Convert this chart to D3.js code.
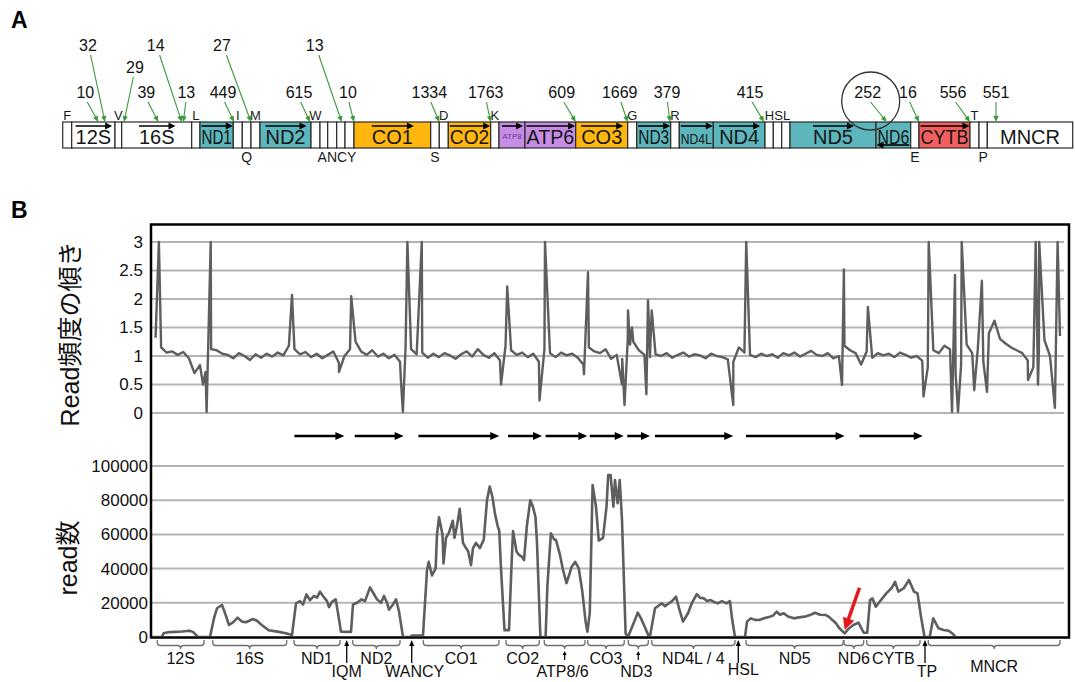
<!DOCTYPE html>
<html><head><meta charset="utf-8">
<script src="https://cdn.jsdelivr.net/npm/d3@7/dist/d3.min.js"></script>
<style>
body{margin:0;background:#fff;}
svg{display:block;}
</style></head>
<body><svg id="chart" width="1075" height="682"></svg>
<script>
// ================= DATA =================
// Panel A: schematic map of the mitochondrial genome (box widths in schematic units)
const mapSegments = ["F","12S","V","16S","L","ND1","I","Q","M","ND2","W","A","N","C","Y","CO1","S","D","CO2","K","ATP8","ATP6","CO3","G","ND3","R","ND4L","ND4","H","S","L","ND5","ND6","E","CYTB","T","P","MNCR"];
const mapWidths   = [9,43.3,6.7,70,8.3,33.3,9,8.7,9,51,9,7.7,9,8.3,9,76.7,8.6,9,42.4,8.3,26,50.7,52,9,34,8.6,34,51.7,8.3,8.4,8.3,86,34.7,8.3,51,9,8.3,85.4];
const mapStrand   = ["H","H","H","H","H","H","H","L","H","H","H","L","L","L","L","H","L","H","H","H","H","H","H","H","H","H","H","H","H","H","H","H","L","L","H","H","L","-"];
// junction counts and where they point on the map (schematic units)
const annotValues = [10,32,29,39,14,13,449,27,615,13,10,1334,1763,609,1669,379,415,252,16,556,551];
const annotTier   = [2,0,1,2,0,2,2,0,2,0,2,2,2,2,2,2,2,2,2,2,2];
const annotTarget = [35.6,42.3,61.3,95.6,119,120.6,171.3,188.3,247.3,279,291.3,376.6,428,513,565,607.3,701.3,824,856.3,907.3,933.3];

// Panel B
const slopeTicks = [0,0.5,1,1.5,2,2.5,3];
const readTicks  = [0,20000,40000,60000,80000,100000];
// read-frequency slope, sampled every 100 bp from 100 bp
const slopeBase = [
1.32,1.15,1.06,1.08,1.02,1.07,0.96,0.70,0.84,0.72,
1.12,1.10,1.04,1.02,0.96,1.05,1.00,0.93,1.03,0.97,
1.04,0.99,1.06,1.01,1.18,1.12,1.03,1.07,0.98,1.04,
0.96,1.02,1.08,0.88,1.00,1.12,1.25,1.08,1.02,1.10,
0.99,1.04,0.96,1.02,0.90,1.15,1.12,1.03,1.06,0.97,
1.04,0.98,1.05,1.01,0.95,1.03,1.08,0.99,1.12,1.02,
0.97,1.05,0.92,1.18,1.10,1.02,1.06,0.98,1.04,0.90,
1.12,1.05,0.98,1.06,1.01,1.04,0.97,0.85,1.15,1.08,
1.05,1.12,0.95,1.02,0.95,1.30,1.25,1.10,1.02,0.98,
1.03,1.00,1.05,0.97,1.02,1.06,0.99,1.03,1.01,0.96,
1.04,1.00,0.98,0.94,0.90,1.15,1.06,1.02,0.98,1.04,
1.00,1.03,0.97,1.05,1.01,1.06,0.99,1.04,1.09,1.02,
1.00,1.05,0.96,1.00,1.18,1.10,1.05,0.85,1.08,0.97,
1.05,1.01,1.04,0.98,1.06,1.02,0.97,1.00,0.92,0.80,
1.10,1.05,1.18,1.12,0.70,0.85,1.20,1.05,1.12,0.90,
1.40,1.62,1.30,1.22,1.15,1.10,1.05,0.92,0.80,1.10,1.28,1.00];
const slopeStart = 100, slopeStep = 100;
// spikes / dips at gene junctions [bp, slope]
const slopeSpikes = [[160,3.0],[954,0.5],[1019,0.02],[1093,3.0],[2556,2.07],[3402,0.72],[3622,2.05],
[4518,0.55],[4552,0.02],[4633,3.0],[4892,3.0],[6318,0.5],[6430,2.22],[7011,0.22],[7110,3.0],
[7812,0.68],[7884,2.47],[8496,0.5],[8541,0.14],[8604,1.8],[8640,1.2],[8676,1.5],[8935,0.33],
[8964,1.98],[9010,1.3],[9031,1.8],[10499,0.14],[10732,3.0],[12456,0.49],[12490,2.52],[12922,1.86],
[13923,0.29],[14017,3.0],[14436,0.02],[14490,2.42],[14544,0.02],[14611,3.0],[14836,0.4],[14974,2.32],
[15066,0.37],[15804,0.58],[15943,3.0],[15984,0.5],[16006,3.0],[16288,0.09],[16337,3.0],[16380,1.35]];
// read counts [bp, reads]
const readCounts = [
[0,0],[212,0],[245,2200],[324,2800],[450,3000],[576,3200],[709,3700],[774,3000],[864,0],[1080,0],[1152,11000],[1206,16800],[1296,18700],[1350,14000],[1422,7000],[1494,8500],[1577,11300],[1656,9000],[1728,8600],[1854,10500],[1926,9500],[2011,7000],[2135,3900],[2322,3000],[2444,2150],[2556,1200],
[2628,19700],[2700,21000],[2754,19000],[2817,24900],[2880,21500],[2952,24000],[3006,23000],[3060,26500],[3114,24000],[3186,21000],[3222,17500],[3276,20500],[3343,22000],[3384,14000],[3438,3100],[3618,3000],
[3654,19000],[3726,20000],[3809,22000],[3870,21000],[3960,29000],[4032,25000],[4086,22000],[4158,20000],[4212,24000],[4266,20000],[4302,16000],[4374,19000],[4428,22000],[4482,15000],[4554,0],[4680,0],[4716,900],[4878,900],[4914,1000],
[4986,39000],[5017,44000],[5076,36000],[5141,40000],[5166,60000],[5202,70000],[5265,60000],[5283,43000],[5328,58000],[5382,61000],[5450,68000],[5481,58000],[5526,65000],[5575,75000],[5634,55000],[5688,52000],[5729,50000],[5778,42000],[5814,52000],[5868,55000],[5940,52000],[6008,57000],[6066,80000],[6115,88000],[6163,82000],[6210,72000],[6257,65000],[6287,62000],[6318,40000],[6381,4000],[6462,4000],
[6505,40000],[6534,62000],[6597,50000],[6642,48000],[6691,47000],[6732,45000],[6784,65000],[6845,80000],[6894,76000],[6939,70000],[6966,55000],[7027,0],[7121,0],
[7153,30000],[7216,60600],[7277,57000],[7308,56700],[7380,48000],[7434,39200],[7497,31500],[7542,36000],[7591,41100],[7654,44000],[7717,40200],[7778,27500],[7841,9000],[7873,3100],
[7916,14000],[7967,88900],[8028,76200],[8078,56400],[8154,58000],[8217,76200],[8248,94700],[8291,94700],[8341,76200],[8370,91800],[8417,78200],[8455,91800],[8496,68400],[8561,2100],[8604,0],
[8717,9000],[8779,14200],[8838,10900],[8905,6000],[8968,1200],[9000,500],
[9090,16800],[9216,19700],[9270,18000],[9342,19700],[9396,21000],[9468,23600],[9531,15800],[9594,9000],[9684,13900],[9756,20000],[9842,25100],[9900,23000],[9968,22600],[10026,21000],[10093,21600],[10152,20500],[10219,19700],[10296,21000],[10375,19700],[10438,21000],[10481,9900],[10530,0],[10710,0],
[10746,9000],[10813,10900],[10890,10000],[10969,9900],[11052,11000],[11156,11900],[11214,12500],[11282,14800],[11340,13000],[11407,13900],[11484,12000],[11592,10900],[11682,11500],[11783,11900],[11880,12800],[11970,14200],[12060,13000],[12157,12900],[12222,11800],[12283,9900],[12348,8000],[12409,5100],[12503,2100],
[12564,4500],[12659,7000],[12753,8400],[12847,2500],[12910,2500],
[12960,21600],[13003,22600],[13064,17700],[13158,21600],[13253,25500],[13347,28500],[13410,32300],[13471,26500],[13567,28500],[13662,33300],[13752,26500],[13815,25500],[13878,11900],[13941,0],[14035,0],
[14098,10900],[14130,9000],[14191,5100],[14285,4100],[14378,3700],[14441,2100],[14504,0]];
const bracketGenes = ["12S","16S","ND1","ND2","CO1","CO2","ATP8/6","CO3","ND3","ND4L / 4","ND5","ND6","CYTB","MNCR"];
const bracketStart = [131,1129,2592,3649,4919,6408,7097,7879,8609,9031,10728,12492,12901,14009];
const bracketEnd   = [972,2461,3420,4500,6282,7007,7830,8537,8969,10530,12479,12847,13860,16380];
const pointLabels = ["IQM","WANCY","HSL","TP"];
const pointPos    = [3541,4711,10589,13950];
const transcriptStart = [2599,3685,4831,6444,7121,7916,8591,9090,10728,12771];
const transcriptEnd   = [3499,4565,6287,7056,7873,8528,9000,10499,12503,13910];
const nd6ArrowFrom = [12771,28800];
const nd6ArrowTo   = [12503,4100];

// ================= LAYOUT / STYLE =================
const FONT = '"Liberation Sans", Arial, "Noto Sans CJK JP", sans-serif';
const svg = d3.select("#chart").attr("font-family", FONT);
const colors = {trna:"#ffffff", rrna:"#ffffff", nd:"#5cb6bc", co:"#ffb70f", atp:"#c78de6", cytb:"#f25f5e", ncr:"#ffffff"};
function typeOf(n){
  if (n.length===1) return "trna";
  if (/^ND/.test(n)) return "nd";
  if (/^CO/.test(n)) return "co";
  if (/^ATP/.test(n)) return "atp";
  if (n==="CYTB") return "cytb";
  if (n==="MNCR") return "ncr";
  return "rrna";
}
function arrowHead(g,x1,y1,x2,y2,len,half,color){
  const a=Math.atan2(y2-y1,x2-x1), c=Math.cos(a), s=Math.sin(a);
  const p=[[x2,y2],[x2-len*c+half*s,y2-len*s-half*c],[x2-len*c-half*s,y2-len*s+half*c]];
  g.append("path").attr("d","M"+p.map(q=>q.join(",")).join("L")+"Z").attr("fill",color);
}
function arrow(g,x1,y1,x2,y2,len,half,color,w){
  const a=Math.atan2(y2-y1,x2-x1);
  g.append("line").attr("x1",x1).attr("y1",y1)
   .attr("x2",x2-len*0.8*Math.cos(a)).attr("y2",y2-len*0.8*Math.sin(a))
   .attr("stroke",color).attr("stroke-width",w);
  arrowHead(g,x1,y1,x2,y2,len,half,color);
}

// panel letters
svg.append("text").attr("x",11).attr("y",28).attr("font-size",23).attr("font-weight","bold").text("A");
svg.append("text").attr("x",11).attr("y",218).attr("font-size",23).attr("font-weight","bold").text("B");

// ---------- Panel A ----------
const gA = svg.append("g");
const mapX = d3.scaleLinear().domain([0,d3.sum(mapWidths)]).range([62.7,1072.7]);
const boxTop = 122, boxBot = 148;
let acc = 0;
const segs = mapSegments.map((name,i)=>{const s={name,x0:acc,x1:acc+mapWidths[i],strand:mapStrand[i],type:typeOf(name)}; acc+=mapWidths[i]; return s;});
gA.selectAll("rect.seg").data(segs).join("rect").attr("class","seg")
  .attr("x",d=>mapX(d.x0)).attr("y",boxTop).attr("width",d=>mapX(d.x1)-mapX(d.x0)).attr("height",boxBot-boxTop)
  .attr("fill",d=>colors[d.type]).attr("stroke","#2a2a2a").attr("stroke-width",1.2);

// gene names + direction arrows
segs.filter(d=>d.type!=="trna").forEach(d=>{
  const x0=mapX(d.x0), x1=mapX(d.x1), cx=(x0+x1)/2, bw=x1-x0;
  const fs = d.name==="ATP8"?8:(d.name==="ND4L"?15:20);
  const t = gA.append("text").attr("x",cx).attr("y",d.name==="ATP8"?139:144).attr("text-anchor","middle")
    .attr("font-size",fs).attr("fill",d.name==="ATP8"?"#6b3a99":"#151515").text(d.name);
  let w = t.node().getComputedTextLength();
  if (w > bw-3){ w = bw-3; t.attr("textLength",w).attr("lengthAdjust","spacingAndGlyphs"); }
  if (d.name==="MNCR") return;
  const aw = Math.max(w, 20);
  if (d.strand==="H"){
    gA.append("line").attr("x1",cx-aw/2).attr("x2",cx+aw/2-3).attr("y1",126).attr("y2",126).attr("stroke","#000").attr("stroke-width",1.6);
    arrowHead(gA,cx-aw/2,126,cx+aw/2+1,126,7,3.5,"#000");
  } else {
    gA.append("line").attr("x1",cx+aw/2).attr("x2",cx-aw/2+3).attr("y1",145).attr("y2",145).attr("stroke","#000").attr("stroke-width",1.6);
    arrowHead(gA,cx+aw/2,145,cx-aw/2-1,145,7,3.5,"#000");
  }
});

// tRNA letters (consecutive tRNAs on the same strand share a label)
const groups=[];
segs.forEach(d=>{
  if (d.type!=="trna") return;
  const last=groups[groups.length-1];
  if (last && last.strand===d.strand && last.x1===d.x0){ last.text+=d.name; last.x1=d.x1; }
  else groups.push({text:d.name,strand:d.strand,x0:d.x0,x1:d.x1});
});
groups.forEach(g=>{
  const cx=(mapX(g.x0)+mapX(g.x1))/2;
  gA.append("text").attr("x",cx).attr("y",g.strand==="H"?120:162).attr("text-anchor","middle")
    .attr("font-size",g.strand==="H"?13:14).attr("fill","#1a1a1a").text(g.text);
});

// junction counts with green arrows
const annotDx = [-13,-17,11,-12,-26,3,-11,-29,-11,-27,-6,-10,-5,-14,-8,-3,-14,-19,-11,-17,0];
const tierY = [51,72.5,98], tierStartY=[55,77,102];
const green = "#3a9a3a";
annotValues.forEach((v,i)=>{
  const tip = mapX(annotTarget[i]), lx = tip+annotDx[i], tier=annotTier[i];
  gA.append("text").attr("x",lx).attr("y",tierY[tier]).attr("text-anchor","middle").attr("font-size",16).attr("fill","#111").text(v);
  arrow(gA, lx+0.15*(tip-lx), tierStartY[tier], tip, boxTop, 6, 2.6, green, 1.1);
  if (v===252){
    gA.append("circle").attr("cx",lx+3).attr("cy",101).attr("r",29).attr("fill","none").attr("stroke","#333").attr("stroke-width",1.3);
  }
});

// ---------- Panel B ----------
const gB = svg.append("g");
const xB = d3.scaleLinear().domain([0,16560]).range([150,1070]);
const yTop = d3.scaleLinear().domain([0,3]).range([413,242]).clamp(true);
const yBot = d3.scaleLinear().domain([0,100000]).range([637,466]);
const gridL=152, gridR=1064;

gB.selectAll("line.gt").data(slopeTicks).join("line").attr("class","gt")
  .attr("x1",gridL).attr("x2",gridR).attr("y1",d=>yTop(d)).attr("y2",d=>yTop(d)).attr("stroke","#b4b4b4").attr("stroke-width",2);
gB.selectAll("line.gb").data(readTicks.filter(d=>d>0)).join("line").attr("class","gb")
  .attr("x1",gridL).attr("x2",gridR).attr("y1",d=>yBot(d)).attr("y2",d=>yBot(d)).attr("stroke","#b4b4b4").attr("stroke-width",2);

const axT = gB.append("g").attr("transform","translate(143,0)")
  .call(d3.axisLeft(yTop).tickValues(slopeTicks).tickSize(0).tickPadding(0).tickFormat(d=>String(d)));
axT.select(".domain").remove();
axT.attr("font-size",17).attr("font-family",FONT);
axT.selectAll("text").attr("fill","#111");
const axB = gB.append("g").attr("transform","translate(148,0)")
  .call(d3.axisLeft(yBot).tickValues(readTicks).tickSize(0).tickPadding(0).tickFormat(d=>String(d)));
axB.select(".domain").remove();
axB.attr("font-size",17).attr("font-family",FONT);
axB.selectAll("text").attr("fill","#111");

// axis titles
gB.append("text").attr("transform","translate(79,334) rotate(-90)").attr("text-anchor","middle").attr("font-size",25).attr("fill","#111").text("Read頻度の傾き");
gB.append("text").attr("transform","translate(77,558) rotate(-90)").attr("text-anchor","middle").attr("font-size",25).attr("fill","#111").text("read数");

// clip
svg.append("defs").append("clipPath").attr("id","plotclip").append("rect").attr("x",152).attr("y",226).attr("width",916).attr("height",410);

// slope series
const slopeData = slopeBase.map((v,i)=>[slopeStart+i*slopeStep,v]).concat(slopeSpikes).sort((a,b)=>a[0]-b[0]);
gB.append("path").datum(slopeData).attr("clip-path","url(#plotclip)")
  .attr("d",d3.line().x(d=>xB(d[0])).y(d=>yTop(d[1])))
  .attr("fill","none").attr("stroke","#5e5e5e").attr("stroke-width",2.4).attr("stroke-linejoin","round");

// transcripts
transcriptStart.forEach((s,i)=>{
  arrow(gB, xB(s), 436, xB(transcriptEnd[i]), 436, 9, 4, "#000", 2.5);
});

// read counts
gB.append("path").datum(readCounts).attr("clip-path","url(#plotclip)")
  .attr("d",d3.line().x(d=>xB(d[0])).y(d=>yBot(d[1])))
  .attr("fill","none").attr("stroke","#5e5e5e").attr("stroke-width",2.6).attr("stroke-linejoin","round");

// red arrow at ND6
arrow(gB, xB(nd6ArrowFrom[0]), yBot(nd6ArrowFrom[1]), xB(nd6ArrowTo[0]), yBot(nd6ArrowTo[1]), 12, 6, "#e3191b", 3.5);

// frame
gB.append("rect").attr("x",151).attr("y",224.5).attr("width",918).attr("height",413)
  .attr("fill","none").attr("stroke","#000").attr("stroke-width",2.5);

// gene brackets below
const lowLabels = new Set(["ATP8/6","ND3"]);
function bracketPath(x0,x1){
  const cx=(x0+x1)/2, yt=640, yb=645.5, yc=649, r=3;
  return `M${x0},${yt} V${yb-r} Q${x0},${yb} ${x0+r},${yb} H${cx-r} Q${cx},${yb} ${cx},${yc} Q${cx},${yb} ${cx+r},${yb} H${x1-r} Q${x1},${yb} ${x1},${yb-r} V${yt}`;
}
bracketGenes.forEach((g,i)=>{
  const x0=xB(bracketStart[i]), x1=xB(bracketEnd[i]), cx=(x0+x1)/2;
  gB.append("path").attr("d",bracketPath(x0,x1)).attr("fill","none").attr("stroke","#6e6e6e").attr("stroke-width",1.3);
  if (lowLabels.has(g)){
    arrow(gB, cx, 660, cx, 651, 4, 2, "#000", 1.2);
    gB.append("text").attr("x",cx-2).attr("y",677).attr("text-anchor","middle").attr("font-size",16).attr("fill","#111").text(g);
  } else {
    gB.append("text").attr("x",cx).attr("y",g==="MNCR"?672:664).attr("text-anchor","middle").attr("font-size",16).attr("fill","#111").text(g);
  }
});
const pointDx = [0,3,5,2];
pointLabels.forEach((p,i)=>{
  const x=xB(pointPos[i]);
  arrow(gB, x, 663, x, 640, 6, 2.5, "#000", 1.3);
  gB.append("text").attr("x",x+pointDx[i]).attr("y",p==="HSL"?675:677).attr("text-anchor","middle").attr("font-size",16).attr("fill","#111").text(p);
});
</script>
</body></html>
